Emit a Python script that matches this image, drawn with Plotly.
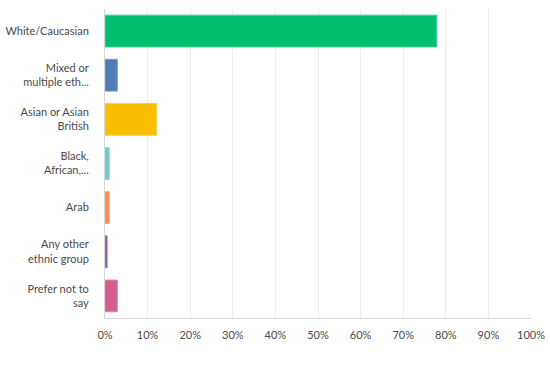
import plotly.graph_objects as go

categories = ["White/Caucasian", "Mixed or<br>multiple eth...", "Asian or Asian<br>British",
              "Black,<br>African,...", "Arab", "Any other<br>ethnic group", "Prefer not to<br>say"]
values = [77.9, 2.9, 12.1, 1.0, 1.0, 0.5, 2.9]
colors = ["#00BF6F", "#507CB6", "#F9BE00", "#6BC8CD", "#FF8B4F", "#7D5BA6", "#D25F90"]
line_colors = ["#3fd08f", "#7a9cca", "#fbcf40", "#90d6da", "#ffa87b", "#9d83bd", "#dd87ac"]
x_ticks = [0, 10, 20, 30, 40, 50, 60, 70, 80, 90, 100]
x_ticklabels = [f"{t}%" for t in x_ticks]

fig = go.Figure(go.Bar(
    y=categories, x=values, orientation="h",
    marker=dict(color=colors, line=dict(color=line_colors, width=1)),
    hoverinfo="x+y",
))
fig.update_layout(
    width=550, height=371,
    margin=dict(l=105, r=19, t=9, b=53),
    paper_bgcolor="white", plot_bgcolor="white",
    font=dict(family="Lato", size=11, color="#4a4a4a"),
    bargap=0.28,
    showlegend=False,
    xaxis=dict(range=[0, 100], tickvals=x_ticks, ticktext=x_ticklabels,
               showgrid=True, gridcolor="#ececec", gridwidth=1,
               showline=True, linecolor="#d6d6d6", linewidth=1,
               zeroline=False, ticks="", ticklabelstandoff=7, fixedrange=True,
               automargin=False),
    yaxis=dict(autorange="reversed", showgrid=False,
               showline=True, linecolor="#d6d6d6", linewidth=1,
               ticks="", ticklabelstandoff=13, fixedrange=True,
               automargin=False),
)
fig.write_html("out.html",
               config={"displayModeBar": False},
               post_script="document.body.style.margin='0';document.body.style.overflow='hidden';")
